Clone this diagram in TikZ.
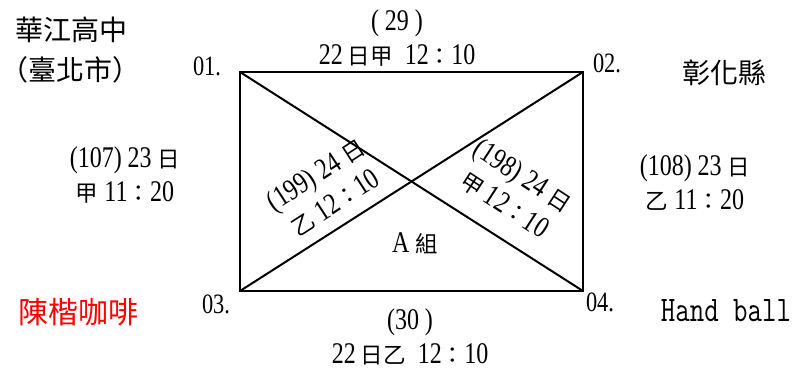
\documentclass[tikz,border=0pt]{standalone}
\usepackage{fontspec}
\setmainfont{Liberation Serif}[FakeStretch=0.8]
\newfontfamily\cjk{Noto Sans CJK TC}
\newfontfamily\cjks{Noto Sans CJK TC}[Scale=0.75]
\newfontfamily\monof{Latin Modern Mono}[FakeStretch=0.78]
\newcommand\zh[1]{{\cjks #1}}
\begin{document}
\begin{tikzpicture}[x=1pt,y=-1pt,
  title/.style={inner sep=0pt,font=\cjk\fontsize{28}{32}\selectfont},
  lbl/.style={inner sep=0pt,align=center,font=\fontsize{30}{34}\selectfont},
  corner/.style={inner sep=0pt,font=\fontsize{28}{33}\selectfont},
  edge/.style={line width=2pt}]
\useasboundingbox (0,0) rectangle (800,369);
\coordinate (c1) at (240,72);
\coordinate (c2) at (583,72);
\coordinate (c3) at (240,291);
\coordinate (c4) at (583,291);
\draw[edge] (c1) -- (c2) -- (c4) -- (c3) -- cycle;
\draw[edge] (c1) -- (c4);
\draw[edge] (c3) -- (c2);
\node[title] (t1) at (71,30) {華江高中};
\node[title] (t2) at (71,70) {（臺北市）};
\node[title] (t3) at (724,73) {彰化縣};
\node[title,text=red,font=\cjk\fontsize{30}{32}\selectfont] (t4) at (78,312) {陳楷咖啡};
\node[corner] (n1) at (207,66) {01.};
\node[corner] (n2) at (607,63) {02.};
\node[corner] (n3) at (216,304) {03.};
\node[corner] (n4) at (600,302) {04.};
\node[inner sep=0pt,font=\monof\fontsize{36}{38}\selectfont] (hb) at (726,311) {Hand ball};
\node[lbl] (m29) at (397,38) {( 29 )\\22\,\zh{日甲}\ \ 12\zh{：}10};
\node[lbl] (m30) at (410,337) {(30 )\\22\,\zh{日乙}\ \ 12\zh{：}10};
\node[lbl] (m107) at (125,175) {(107) 23 \zh{日}\\\zh{甲} 11\zh{：}20};
\node[lbl] (m108) at (695,183) {(108) 23 \zh{日}\\\zh{乙} 11\zh{：}20};
\node[lbl,rotate=33] (m199) at (325,188) {(199) 24 \zh{日}\\\zh{乙} 12\zh{：}10};
\node[lbl,rotate=-33] (m198) at (514,190) {(198) 24 \zh{日}\\\zh{甲} 12\zh{：}10};
\node[inner sep=0pt,font=\fontsize{30}{33}\selectfont] (ga) at (415,243) {A \zh{組}};
\end{tikzpicture}
\end{document}
